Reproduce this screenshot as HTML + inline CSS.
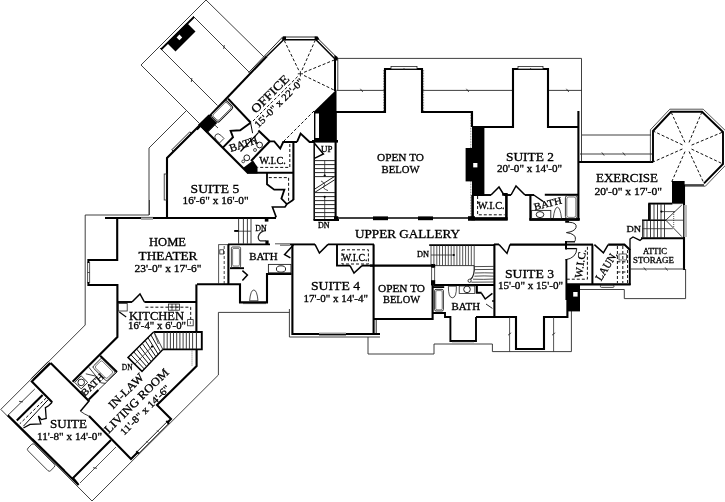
<!DOCTYPE html>
<html><head><meta charset="utf-8"><title>Floor plan</title>
<style>
html,body{margin:0;padding:0;background:#fff;}
svg{display:block;}
text{font-family:"Liberation Serif",serif;fill:#000;stroke:#000;stroke-width:0.3px;}
body{-webkit-font-smoothing:antialiased;}
#wrap{will-change:transform;transform:translateZ(0);}
</style></head><body><div id="wrap">
<svg width="725" height="502" viewBox="0 0 725 502">
<rect width="725" height="502" fill="#fff"/>
<polyline points="199.0,123.0 141.0,65.0 206.0,0.0" fill="none" stroke="#2a2a2a" stroke-width="0.9"/>
<polyline points="206.0,0.0 264.0,57.0" fill="none" stroke="#2a2a2a" stroke-width="0.9"/>
<polyline points="193.0,16.0 249.5,72.5" fill="none" stroke="#2a2a2a" stroke-width="0.9"/>
<path d="M222.8,45.4 L225.2,48.6" stroke="#222" stroke-width="0.8" transform="rotate(45 224.0 47.0)"/>
<polyline points="160.0,48.0 217.5,105.5" fill="none" stroke="#2a2a2a" stroke-width="0.9"/>
<path d="M190.4,78.4 L192.8,81.6" stroke="#222" stroke-width="0.8" transform="rotate(45 191.6 80.0)"/>
<polyline points="161.0,49.5 194.0,17.0" fill="none" stroke="#000" stroke-width="1.9" stroke-linejoin="miter"/>
<polygon points="167.0,43.0 187.0,23.0 195.5,31.5 175.5,51.5" fill="#000"/>
<polygon points="179.4,34.6 182.2,37.4 179.4,40.2 176.6,37.4" fill="#fff"/>
<polyline points="186.0,111.0 149.0,148.0 149.0,215.0 85.2,215.0 85.2,325.0 0.8,409.4 92.0,501.0 218.4,375.0 218.4,312.4 289.4,312.4" fill="none" stroke="#2a2a2a" stroke-width="0.9"/>
<polyline points="289.4,309.0 289.4,337.0 380.0,337.0" fill="none" stroke="#2a2a2a" stroke-width="0.9"/>
<polyline points="368.0,337.0 368.0,354.0 434.0,354.0 434.0,344.0 492.4,344.0 492.4,351.6 571.4,351.6 571.4,311.0" fill="none" stroke="#2a2a2a" stroke-width="0.9"/>
<polyline points="580.0,289.5 624.3,289.5 624.3,298.6 685.6,298.6 685.6,269.0" fill="none" stroke="#2a2a2a" stroke-width="0.9"/>
<polyline points="337.0,58.4 581.5,58.4 581.5,162.0" fill="none" stroke="#2a2a2a" stroke-width="0.9"/>
<polyline points="337.8,58.4 337.8,90.4" fill="none" stroke="#2a2a2a" stroke-width="0.9"/>
<polyline points="337.0,90.4 384.0,90.4" fill="none" stroke="#2a2a2a" stroke-width="0.9"/>
<path d="M360.4,88.8 L362.8,92.0" stroke="#222" stroke-width="0.8" transform="rotate(0 361.6 90.4)"/>
<polyline points="423.0,90.4 513.0,90.4" fill="none" stroke="#2a2a2a" stroke-width="0.9"/>
<path d="M466.4,88.8 L468.8,92.0" stroke="#222" stroke-width="0.8" transform="rotate(0 467.6 90.4)"/>
<polyline points="548.0,90.4 582.0,90.4" fill="none" stroke="#2a2a2a" stroke-width="0.9"/>
<path d="M566.4,88.8 L568.8,92.0" stroke="#222" stroke-width="0.8" transform="rotate(0 567.6 90.4)"/>
<polyline points="582.0,135.0 651.0,135.0" fill="none" stroke="#2a2a2a" stroke-width="0.9"/>
<polyline points="580.0,154.0 652.0,154.0" fill="none" stroke="#2a2a2a" stroke-width="0.9"/>
<path d="M601.8,152.4 L604.2,155.6" stroke="#222" stroke-width="0.8" transform="rotate(0 603.0 154.0)"/>
<path d="M622.8,152.4 L625.2,155.6" stroke="#222" stroke-width="0.8" transform="rotate(0 624.0 154.0)"/>
<polyline points="266.8,56.2 196.8,129.6" fill="none" stroke="#000" stroke-width="2.2" stroke-linejoin="miter"/>
<polyline points="248.6,72.6 282.6,37.0 316.4,37.0 337.8,58.4" fill="none" stroke="#111" stroke-width="0.9"/>
<polyline points="266.8,56.2 283.6,39.8 316.0,39.8 334.8,58.8" fill="none" stroke="#000" stroke-width="1.5"/>
<polygon points="281.6,39.6 283.2,36.6 286.0,36.6 286.0,40.4" fill="#000"/>
<polygon points="314.6,36.6 317.8,36.6 319.4,39.6 314.6,40.4" fill="#000"/>
<polygon points="334.4,55.0 337.6,57.0 337.6,60.4 334.4,60.4" fill="#000"/>
<polyline points="335.0,58.0 335.0,91.0" fill="none" stroke="#000" stroke-width="2.0" stroke-linejoin="miter"/>
<polyline points="298.7,70.2 284.4,40.8" fill="none" stroke="#111" stroke-width="1.0" stroke-dasharray="3 2"/>
<polyline points="302.0,70.1 315.0,40.8" fill="none" stroke="#111" stroke-width="1.0" stroke-dasharray="3 2"/>
<polyline points="304.1,72.3 334.2,60.0" fill="none" stroke="#111" stroke-width="1.0" stroke-dasharray="3 2"/>
<polyline points="304.0,75.5 334.0,90.0" fill="none" stroke="#111" stroke-width="1.0" stroke-dasharray="3 2"/>
<polyline points="297.6,76.6 253.0,121.0" fill="none" stroke="#111" stroke-width="1.0" stroke-dasharray="3 2"/>
<polyline points="314.0,111.0 283.0,142.0" fill="none" stroke="#111" stroke-width="1.0" stroke-dasharray="3 2"/>
<path d="M297.8,73.8 h5.2 M300.4,71.2 v5.2" stroke="#111" stroke-width="0.9"/>
<polygon points="336.5,89.5 314.0,111.6 314.0,141.5 336.5,141.5" fill="#000"/>
<rect x="315.4" y="113.5" width="3.6" height="24.5" fill="#fff"/>
<polyline points="228.0,98.6 250.8,122.8" fill="none" stroke="#000" stroke-width="2.1" stroke-linejoin="miter"/>
<polyline points="258.4,130.4 269.6,141.2" fill="none" stroke="#000" stroke-width="2.1" stroke-linejoin="miter"/>
<polyline points="250.6,122.8 252.6,133.2" fill="none" stroke="#000" stroke-width="1.0"/>
<polyline points="199.0,124.0 248.0,173.0" fill="none" stroke="#000" stroke-width="2.1" stroke-linejoin="miter"/>
<polygon points="198.4,124.4 208.6,114.4 217.2,123.0 207.0,133.2" fill="#000"/>
<polygon points="243.0,168.0 253.0,160.5 257.5,167.0 257.5,173.5 248.0,173.5" fill="#000"/>
<rect x="-10.9" y="-5.3" width="21.8" height="10.6" rx="2" fill="#fff" stroke="#111" stroke-width="1.0" transform="translate(222,111.4) rotate(-45)"/>
<rect x="-9.6" y="-4" width="19.2" height="8" rx="1.6" fill="none" stroke="#333" stroke-width="0.7" transform="translate(222,111.4) rotate(-45)"/>
<polyline points="207.6,132.0 214.8,125.0 218.0,128.0" fill="none" stroke="#2a2a2a" stroke-width="0.9"/>
<path d="M-3.2,3 L-3.2,-1.5 Q-3.2,-5.5 0,-5.5 Q3.2,-5.5 3.2,-1.5 L3.2,3 Z" fill="none" stroke="#222" stroke-width="0.8" transform="translate(219.6,138.6) rotate(-45)"/>
<polyline points="250.6,122.8 240.2,130.2 230.6,130.8 233.0,137.2 222.6,147.8" fill="none" stroke="#000" stroke-width="1.9" stroke-linejoin="miter"/>
<polyline points="258.6,132.4 240.5,151.5" fill="none" stroke="#000" stroke-width="1.2"/>
<polyline points="252.0,139.0 256.5,143.5" fill="none" stroke="#2a2a2a" stroke-width="0.8"/>
<ellipse cx="259.6" cy="145.0" rx="2.9" ry="2.9" fill="#fff" stroke="#222" stroke-width="1.0" transform="rotate(0 259.6 145.0)"/>
<ellipse cx="255.0" cy="150.0" rx="1.5" ry="1.5" fill="#fff" stroke="#222" stroke-width="0.8" transform="rotate(0 255.0 150.0)"/>
<ellipse cx="246.8" cy="157.8" rx="2.9" ry="2.9" fill="#fff" stroke="#222" stroke-width="1.0" transform="rotate(0 246.8 157.8)"/>
<ellipse cx="243.2" cy="161.4" rx="1.4" ry="1.4" fill="#fff" stroke="#222" stroke-width="0.8" transform="rotate(0 243.2 161.4)"/>
<polyline points="270.0,141.0 251.0,161.0" fill="none" stroke="#000" stroke-width="2.1" stroke-linejoin="miter"/>
<polyline points="270.0,141.4 274.2,141.4 280.2,148.6 283.2,142.0 297.0,142.0" fill="none" stroke="#000" stroke-width="1.9" stroke-linejoin="miter"/>
<polyline points="297.0,142.0 300.6,133.6 309.6,142.0 314.4,142.0" fill="none" stroke="#000" stroke-width="1.9" stroke-linejoin="miter"/>
<polyline points="293.4,142.0 293.4,200.0" fill="none" stroke="#000" stroke-width="2.1" stroke-linejoin="miter"/>
<polyline points="247.0,172.8 293.4,172.8" fill="none" stroke="#000" stroke-width="2.1" stroke-linejoin="miter"/>
<polyline points="289.8,144.0 289.8,167.4 257.4,167.4" fill="none" stroke="#111" stroke-width="1.0" stroke-dasharray="3 2"/>
<polyline points="267.0,173.0 267.0,184.2 274.2,189.6 284.4,189.6 281.4,198.6 286.8,204.2 293.4,199.8" fill="none" stroke="#000" stroke-width="1.8" stroke-linejoin="miter"/>
<polyline points="268.8,177.6 288.6,177.6 288.6,201.0" fill="none" stroke="#111" stroke-width="1.0" stroke-dasharray="3 2"/>
<polyline points="286.8,204.2 285.0,207.0 272.4,207.0 276.0,216.6 274.8,217.8" fill="none" stroke="#000" stroke-width="1.6" stroke-linejoin="miter"/>
<polyline points="200.0,125.0 167.0,158.0 167.0,218.0" fill="none" stroke="#000" stroke-width="2.1" stroke-linejoin="miter"/>
<polyline points="173.4,151.4 171.8,149.8 189.8,131.8 191.4,133.4" fill="none" stroke="#111" stroke-width="0.9"/>
<rect x="164.2" y="174.0" width="2.8" height="26.0" rx="0" fill="none" stroke="#222" stroke-width="0.8"/>
<polyline points="105.0,218.0 141.0,218.0" fill="none" stroke="#000" stroke-width="2.1" stroke-linejoin="miter"/>
<polyline points="153.0,218.0 276.0,218.0" fill="none" stroke="#000" stroke-width="2.1" stroke-linejoin="miter"/>
<polyline points="141.0,217.4 153.0,217.4" fill="none" stroke="#2a2a2a" stroke-width="0.8"/>
<polyline points="141.0,219.0 153.0,219.0" fill="none" stroke="#2a2a2a" stroke-width="0.8"/>
<polyline points="149.4,200.0 149.4,215.0" fill="none" stroke="#2a2a2a" stroke-width="0.9"/>
<polyline points="335.6,112.0 335.6,220.5" fill="none" stroke="#000" stroke-width="2.1" stroke-linejoin="miter"/>
<polyline points="314.2,142.0 314.2,220.0" fill="none" stroke="#000" stroke-width="1.5" stroke-linejoin="miter"/>
<polyline points="313.5,220.0 339.0,220.0" fill="none" stroke="#000" stroke-width="2.0" stroke-linejoin="miter"/>
<rect x="312.0" y="140.0" width="26.0" height="2.6" fill="#000"/>
<polyline points="314.6,160.6 335.0,160.6" fill="none" stroke="#2a2a2a" stroke-width="1.0"/>
<polyline points="314.6,164.6 335.0,164.6" fill="none" stroke="#2a2a2a" stroke-width="1.0"/>
<polyline points="314.6,168.6 335.0,168.6" fill="none" stroke="#2a2a2a" stroke-width="1.0"/>
<polyline points="314.6,172.6 335.0,172.6" fill="none" stroke="#2a2a2a" stroke-width="1.0"/>
<polyline points="314.6,176.6 335.0,176.6" fill="none" stroke="#2a2a2a" stroke-width="1.0"/>
<polyline points="314.6,192.6 335.0,192.6" fill="none" stroke="#2a2a2a" stroke-width="1.0"/>
<polyline points="314.6,196.6 335.0,196.6" fill="none" stroke="#2a2a2a" stroke-width="1.0"/>
<polyline points="314.6,200.6 335.0,200.6" fill="none" stroke="#2a2a2a" stroke-width="1.0"/>
<polyline points="314.6,204.6 335.0,204.6" fill="none" stroke="#2a2a2a" stroke-width="1.0"/>
<polyline points="314.6,208.6 335.0,208.6" fill="none" stroke="#2a2a2a" stroke-width="1.0"/>
<polyline points="314.6,212.6 335.0,212.6" fill="none" stroke="#2a2a2a" stroke-width="1.0"/>
<polyline points="314.6,216.6 335.0,216.6" fill="none" stroke="#2a2a2a" stroke-width="1.0"/>
<polyline points="324.7,160.4 324.7,175.5" fill="none" stroke="#2a2a2a" stroke-width="0.8"/>
<circle cx="324.7" cy="175.5" r="1.1" fill="#000"/>
<polyline points="324.7,196.5 324.7,219.0" fill="none" stroke="#2a2a2a" stroke-width="0.8"/>
<circle cx="324.7" cy="196.8" r="1.1" fill="#000"/>
<path d="M314.8,189 L334.6,176.4 M314.8,192.4 L334.6,179.8" fill="none" stroke="#222" stroke-width="1.0"/>
<path d="M321,181 Q326,183.4 324,186 Q322,188.4 328,190.6" fill="none" stroke="#222" stroke-width="0.8"/>
<polyline points="314.4,143.2 323.4,154.0 314.4,158.4" fill="none" stroke="#000" stroke-width="1.5"/>
<polyline points="335.0,112.0 385.0,112.0 385.0,69.0 422.0,69.0 422.0,112.0 472.0,112.0 472.0,127.0" fill="none" stroke="#000" stroke-width="2.1" stroke-linejoin="miter"/>
<polyline points="484.0,127.0 513.0,127.0 513.0,69.0 548.0,69.0 548.0,127.0 578.4,127.0" fill="none" stroke="#000" stroke-width="2.1" stroke-linejoin="miter"/>
<polyline points="578.4,111.0 578.4,220.0" fill="none" stroke="#000" stroke-width="2.1" stroke-linejoin="miter"/>
<rect x="391.0" y="66.4" width="26.0" height="2.6" rx="0" fill="#fff" stroke="#222" stroke-width="0.8"/>
<rect x="518.0" y="66.4" width="25.0" height="2.6" rx="0" fill="#fff" stroke="#222" stroke-width="0.8"/>
<polyline points="404.0,68.0 404.0,69.6" fill="none" stroke="#2a2a2a" stroke-width="0.8"/>
<polyline points="530.6,68.0 530.6,69.6" fill="none" stroke="#2a2a2a" stroke-width="0.8"/>
<polyline points="383.6,70.0 383.6,112.0" fill="none" stroke="#111" stroke-width="0.6" stroke-dasharray="0.8 0.8"/>
<polyline points="423.6,70.0 423.6,112.0" fill="none" stroke="#111" stroke-width="0.6" stroke-dasharray="0.8 0.8"/>
<rect x="472.0" y="126.0" width="12.4" height="70.0" fill="#000"/>
<rect x="465.6" y="148.0" width="7.4" height="33.4" fill="#000"/>
<rect x="473.2" y="163.0" width="4.2" height="4.4" fill="#fff"/>
<polyline points="470.8,112.0 470.8,148.0" fill="none" stroke="#111" stroke-width="0.6" stroke-dasharray="0.8 0.8"/>
<polyline points="470.8,181.0 470.8,218.0" fill="none" stroke="#111" stroke-width="0.6" stroke-dasharray="0.8 0.8"/>
<polyline points="335.0,218.0 475.0,218.0" fill="none" stroke="#000" stroke-width="1.5" stroke-linejoin="miter"/>
<rect x="373.0" y="216.4" width="15.0" height="3.8" fill="#000"/>
<rect x="418.0" y="216.4" width="15.0" height="3.8" fill="#000"/>
<rect x="334.0" y="216.2" width="4.2" height="4.2" fill="#000"/>
<rect x="468.0" y="216.2" width="7.0" height="4.2" fill="#000"/>
<polyline points="484.0,195.0 491.0,195.0" fill="none" stroke="#000" stroke-width="1.9" stroke-linejoin="miter"/>
<polyline points="491.0,195.0 499.0,187.0 504.0,195.0" fill="none" stroke="#000" stroke-width="1.5"/>
<polyline points="504.0,195.0 511.0,195.0" fill="none" stroke="#000" stroke-width="1.9" stroke-linejoin="miter"/>
<polyline points="511.0,195.0 516.0,186.0 525.0,195.0" fill="none" stroke="#000" stroke-width="1.5"/>
<polyline points="525.0,195.0 534.0,195.0" fill="none" stroke="#000" stroke-width="1.9" stroke-linejoin="miter"/>
<polyline points="533.4,194.8 543.0,201.4" fill="none" stroke="#000" stroke-width="1.3"/>
<polyline points="472.6,195.0 472.6,219.0 506.4,219.0 506.4,194.4 502.2,194.4" fill="none" stroke="#000" stroke-width="2.6" stroke-linejoin="miter"/>
<rect x="468.0" y="217.2" width="39.6" height="3.4" fill="#000"/>
<polyline points="477.6,196.0 477.6,214.8 504.6,214.8" fill="none" stroke="#111" stroke-width="1.0" stroke-dasharray="3 2"/>
<polyline points="530.4,194.8 530.4,219.4 579.6,219.4" fill="none" stroke="#000" stroke-width="2.1" stroke-linejoin="miter"/>
<rect x="529.4" y="218.0" width="50.2" height="2.8" fill="#000"/>
<polyline points="544.8,194.8 579.0,194.8" fill="none" stroke="#000" stroke-width="1.9" stroke-linejoin="miter"/>
<rect x="565.4" y="195.6" width="11.8" height="23.0" rx="2.2" fill="none" stroke="#222" stroke-width="0.9"/>
<rect x="566.8" y="197.0" width="9.0" height="20.4" rx="2" fill="none" stroke="#222" stroke-width="0.6"/>
<rect x="531.6" y="210.4" width="19.2" height="8.4" rx="0" fill="none" stroke="#222" stroke-width="0.9"/>
<ellipse cx="540.0" cy="214.6" rx="3.8" ry="3.0" fill="#fff" stroke="#222" stroke-width="1.0" transform="rotate(0 540.0 214.6)"/>
<path d="M553.2,218.6 Q554.6,207.2 557.4,207.2 Q560.2,207.2 561.6,218.6 Z" fill="none" stroke="#222" stroke-width="0.8"/>
<polyline points="578.0,162.0 653.0,162.0" fill="none" stroke="#000" stroke-width="2.1" stroke-linejoin="miter"/>
<polyline points="653.0,162.0 653.0,131.0 671.0,111.8 702.0,111.8 723.0,132.0 723.0,164.0 704.0,183.4" fill="none" stroke="#000" stroke-width="1.9" stroke-linejoin="miter"/>
<polyline points="650.4,162.0 650.4,129.8 669.8,109.2 703.2,109.2 725.6,130.8 725.6,165.2 705.4,186.2 684.0,186.2" fill="none" stroke="#2a2a2a" stroke-width="0.8"/>
<polyline points="684.9,142.4 671.0,111.8" fill="none" stroke="#111" stroke-width="1.0" stroke-dasharray="3 2"/>
<polyline points="689.0,142.4 702.0,111.8" fill="none" stroke="#111" stroke-width="1.0" stroke-dasharray="3 2"/>
<polyline points="691.6,145.1 723.0,132.0" fill="none" stroke="#111" stroke-width="1.0" stroke-dasharray="3 2"/>
<polyline points="691.5,149.1 723.0,164.0" fill="none" stroke="#111" stroke-width="1.0" stroke-dasharray="3 2"/>
<polyline points="689.1,151.5 704.0,183.4" fill="none" stroke="#111" stroke-width="1.0" stroke-dasharray="3 2"/>
<polyline points="685.0,151.6 671.0,183.4" fill="none" stroke="#111" stroke-width="1.0" stroke-dasharray="3 2"/>
<polyline points="682.4,149.0 653.0,162.0" fill="none" stroke="#111" stroke-width="1.0" stroke-dasharray="3 2"/>
<polyline points="682.5,144.9 653.0,131.0" fill="none" stroke="#111" stroke-width="1.0" stroke-dasharray="3 2"/>
<rect x="672.0" y="181.0" width="12.6" height="22.4" fill="#000"/>
<polyline points="684.0,185.0 684.0,205.0" fill="none" stroke="#000" stroke-width="2.1" stroke-linejoin="miter"/>
<polyline points="684.0,237.0 684.0,270.0" fill="none" stroke="#000" stroke-width="2.1" stroke-linejoin="miter"/>
<polyline points="683.8,205.0 683.8,237.0" fill="none" stroke="#000" stroke-width="1.2"/>
<polyline points="686.0,205.0 686.0,237.0" fill="none" stroke="#555" stroke-width="0.8"/>
<polyline points="684.0,185.0 704.0,185.0" fill="none" stroke="#000" stroke-width="1.3" stroke-linejoin="miter"/>
<polyline points="648.3,203.6 672.4,203.6" fill="none" stroke="#000" stroke-width="1.9" stroke-linejoin="miter"/>
<polyline points="649.0,203.6 649.0,220.4" fill="none" stroke="#000" stroke-width="1.9" stroke-linejoin="miter"/>
<polyline points="642.0,220.2 666.0,220.2" fill="none" stroke="#000" stroke-width="1.5" stroke-linejoin="miter"/>
<polyline points="666.0,220.2 684.0,220.2" fill="none" stroke="#2a2a2a" stroke-width="0.8"/>
<polyline points="642.6,220.4 642.6,237.4" fill="none" stroke="#2a2a2a" stroke-width="1.0"/>
<polyline points="650.5,204.0 650.5,220.0" fill="none" stroke="#2a2a2a" stroke-width="0.9"/>
<polyline points="654.0,204.0 654.0,220.0" fill="none" stroke="#2a2a2a" stroke-width="0.9"/>
<polyline points="657.5,204.0 657.5,220.0" fill="none" stroke="#2a2a2a" stroke-width="0.9"/>
<polyline points="661.0,204.0 661.0,220.0" fill="none" stroke="#2a2a2a" stroke-width="0.9"/>
<polyline points="664.5,204.0 664.5,220.0" fill="none" stroke="#2a2a2a" stroke-width="0.9"/>
<polyline points="643.8,221.0 643.8,237.6" fill="none" stroke="#2a2a2a" stroke-width="0.9"/>
<polyline points="647.0,221.0 647.0,237.6" fill="none" stroke="#2a2a2a" stroke-width="0.9"/>
<polyline points="650.5,221.0 650.5,237.6" fill="none" stroke="#2a2a2a" stroke-width="0.9"/>
<polyline points="654.0,221.0 654.0,237.6" fill="none" stroke="#2a2a2a" stroke-width="0.9"/>
<polyline points="657.5,221.0 657.5,237.6" fill="none" stroke="#2a2a2a" stroke-width="0.9"/>
<polyline points="661.0,221.0 661.0,237.6" fill="none" stroke="#2a2a2a" stroke-width="0.9"/>
<polyline points="664.5,221.0 664.5,237.6" fill="none" stroke="#2a2a2a" stroke-width="0.9"/>
<polyline points="642.6,228.7 672.8,228.7" fill="none" stroke="#2a2a2a" stroke-width="0.8"/>
<polyline points="681.8,205.0 665.8,220.2 681.8,236.6" fill="none" stroke="#2a2a2a" stroke-width="0.9"/>
<polyline points="673.7,212.0 673.7,228.0" fill="none" stroke="#111" stroke-width="0.7" stroke-dasharray="1 1"/>
<polyline points="661.4,211.6 675.0,211.6" fill="none" stroke="#2a2a2a" stroke-width="0.8"/>
<circle cx="661.4" cy="211.6" r="1.1" fill="#000"/>
<polyline points="672.4,203.6 683.0,203.6" fill="none" stroke="#2a2a2a" stroke-width="0.8"/>
<polyline points="641.0,238.2 684.0,238.2" fill="none" stroke="#000" stroke-width="1.9" stroke-linejoin="miter"/>
<polyline points="630.0,250.0 630.0,239.0 633.0,237.0 640.0,240.4 642.4,238.2" fill="none" stroke="#000" stroke-width="1.3" stroke-linejoin="miter"/>
<polyline points="629.8,249.0 629.8,285.0" fill="none" stroke="#000" stroke-width="1.9" stroke-linejoin="miter"/>
<polyline points="630.0,269.0 684.0,269.0" fill="none" stroke="#2a2a2a" stroke-width="0.9"/>
<path d="M643.8,267.4 L646.2,270.6" stroke="#222" stroke-width="0.8" transform="rotate(0 645.0 269.0)"/>
<path d="M665.2,267.4 L667.6,270.6" stroke="#222" stroke-width="0.8" transform="rotate(0 666.4 269.0)"/>
<polyline points="565.2,221.8 569.0,221.8" fill="none" stroke="#000" stroke-width="1.9" stroke-linejoin="miter"/>
<path d="M568.8,222.2 Q577.4,222.6 576,227.6 Q574.6,231.6 566.4,232.6 Q576.4,234 575.4,239.4 Q575.2,241 574.6,241.6" fill="none" stroke="#222" stroke-width="1.0"/>
<polyline points="566.0,241.0 566.0,249.4" fill="none" stroke="#000" stroke-width="2.0" stroke-linejoin="miter"/>
<polyline points="566.0,241.8 575.0,241.8" fill="none" stroke="#000" stroke-width="1.3" stroke-linejoin="miter"/>
<polyline points="566.0,248.6 576.8,248.6" fill="none" stroke="#000" stroke-width="1.3" stroke-linejoin="miter"/>
<path d="M576.8,248.6 Q576.4,258 565.4,259.8" fill="none" stroke="#222" stroke-width="1.0"/>
<polyline points="566.0,244.6 593.0,244.6" fill="none" stroke="#000" stroke-width="2.1" stroke-linejoin="miter"/>
<polyline points="290.0,244.4 315.0,244.4" fill="none" stroke="#000" stroke-width="1.9" stroke-linejoin="miter"/>
<polyline points="315.0,244.4 319.4,253.0 328.0,244.4" fill="none" stroke="#000" stroke-width="1.5"/>
<polyline points="328.0,244.4 374.0,244.4" fill="none" stroke="#000" stroke-width="1.9" stroke-linejoin="miter"/>
<polyline points="494.0,244.4 499.0,244.4" fill="none" stroke="#000" stroke-width="1.9" stroke-linejoin="miter"/>
<polyline points="499.0,244.4 507.0,253.4 510.0,244.4" fill="none" stroke="#000" stroke-width="1.5"/>
<polyline points="510.0,244.6 567.0,244.6" fill="none" stroke="#000" stroke-width="2.1" stroke-linejoin="miter"/>
<polyline points="592.4,244.6 592.4,284.4" fill="none" stroke="#000" stroke-width="2.0" stroke-linejoin="miter"/>
<polyline points="594.4,244.6 603.4,252.8 608.2,244.6" fill="none" stroke="#000" stroke-width="1.5"/>
<polyline points="608.2,244.6 624.4,244.6 629.6,249.4" fill="none" stroke="#000" stroke-width="2.1" stroke-linejoin="miter"/>
<polyline points="566.0,284.4 630.6,284.4" fill="none" stroke="#000" stroke-width="2.1" stroke-linejoin="miter"/>
<polyline points="566.4,259.0 566.4,300.0" fill="none" stroke="#000" stroke-width="1.9" stroke-linejoin="miter"/>
<polyline points="587.4,246.8 587.4,279.2 567.0,279.2" fill="none" stroke="#111" stroke-width="1.0" stroke-dasharray="3 2"/>
<polyline points="617.4,246.0 617.4,283.0" fill="none" stroke="#111" stroke-width="1.0" stroke-dasharray="3 2"/>
<polyline points="622.8,246.0 622.8,283.0" fill="none" stroke="#111" stroke-width="1.0" stroke-dasharray="3 2"/>
<polyline points="627.6,250.0 627.6,283.0" fill="none" stroke="#111" stroke-width="1.0" stroke-dasharray="3 2"/>
<polyline points="617.4,261.8 628.0,261.8" fill="none" stroke="#111" stroke-width="1.0" stroke-dasharray="3 2"/>
<polyline points="617.4,272.0 628.0,272.0" fill="none" stroke="#111" stroke-width="1.0" stroke-dasharray="3 2"/>
<rect x="619.0" y="254.0" width="7.6" height="6.0" rx="0" fill="none" stroke="#222" stroke-width="0.7"/>
<rect x="600.4" y="285.0" width="13.6" height="2.4" rx="1" fill="none" stroke="#222" stroke-width="0.8"/>
<rect x="567.0" y="284.4" width="13.0" height="27.0" fill="#000"/>
<rect x="573.2" y="292.0" width="4.4" height="4.6" fill="#fff"/>
<polyline points="494.4,244.0 494.4,317.6" fill="none" stroke="#000" stroke-width="2.1" stroke-linejoin="miter"/>
<polyline points="476.0,317.0 516.0,317.0 516.0,349.0 544.0,349.0 544.0,317.0 567.4,317.0 567.4,300.0" fill="none" stroke="#000" stroke-width="2.1" stroke-linejoin="miter"/>
<polyline points="509.6,317.0 509.6,351.6" fill="none" stroke="#2a2a2a" stroke-width="0.8"/>
<path d="M508.4,332.4 L510.8,335.6" stroke="#222" stroke-width="0.8" transform="rotate(-90 509.6 334.0)"/>
<polyline points="553.6,317.0 553.6,351.6" fill="none" stroke="#2a2a2a" stroke-width="0.8"/>
<path d="M552.4,332.4 L554.8,335.6" stroke="#222" stroke-width="0.8" transform="rotate(-90 553.6 334.0)"/>
<polyline points="433.6,285.0 494.4,285.0" fill="none" stroke="#000" stroke-width="1.9" stroke-linejoin="miter"/>
<polyline points="432.0,313.0 445.0,313.0 445.0,317.0 450.4,317.0 450.4,341.0 476.0,341.0 476.0,317.0" fill="none" stroke="#000" stroke-width="1.9" stroke-linejoin="miter"/>
<polyline points="452.0,341.8 474.0,341.8" fill="none" stroke="#2a2a2a" stroke-width="0.7"/>
<rect x="433.0" y="286.2" width="11.2" height="1.8" fill="#000"/>
<rect x="434.6" y="289.4" width="8.8" height="21.6" rx="1.4" fill="none" stroke="#222" stroke-width="0.9"/>
<rect x="435.8" y="290.6" width="6.4" height="19.2" rx="1.2" fill="none" stroke="#222" stroke-width="0.6"/>
<path d="M448.4,286.2 L456.4,286.2 Q456.6,297.8 452.4,297.8 Q448.2,297.8 448.4,286.2 Z" fill="none" stroke="#222" stroke-width="0.8"/>
<rect x="459.2" y="286.0" width="15.6" height="7.4" rx="0" fill="none" stroke="#222" stroke-width="0.8"/>
<ellipse cx="467.0" cy="289.4" rx="3.3" ry="3.3" fill="#fff" stroke="#222" stroke-width="1.0" transform="rotate(0 467.0 289.4)"/>
<polyline points="476.8,285.0 476.8,292.8 481.6,292.8" fill="none" stroke="#000" stroke-width="2.1" stroke-linejoin="miter"/>
<polyline points="481.4,293.2 485.2,299.0 492.4,293.4" fill="none" stroke="#000" stroke-width="1.5"/>
<polyline points="486.0,304.0 492.4,308.4" fill="none" stroke="#2a2a2a" stroke-width="1.0"/>
<polyline points="492.0,301.0 494.4,301.0" fill="none" stroke="#000" stroke-width="1.4" stroke-linejoin="miter"/>
<polyline points="370.0,265.6 432.4,265.6" fill="none" stroke="#000" stroke-width="2.1" stroke-linejoin="miter"/>
<polyline points="432.0,265.6 474.0,265.6" fill="none" stroke="#2a2a2a" stroke-width="0.9"/>
<polyline points="373.6,244.4 373.6,334.6" fill="none" stroke="#000" stroke-width="2.1" stroke-linejoin="miter"/>
<polyline points="373.6,319.0 432.6,319.0 432.6,285.0" fill="none" stroke="#000" stroke-width="2.1" stroke-linejoin="miter"/>
<polyline points="431.6,268.0 431.6,281.0" fill="none" stroke="#2a2a2a" stroke-width="0.8"/>
<polyline points="434.6,268.0 434.6,281.0" fill="none" stroke="#2a2a2a" stroke-width="0.8"/>
<rect x="431.0" y="264.0" width="4.2" height="3.8" fill="#000"/>
<rect x="431.0" y="280.2" width="4.2" height="5.2" fill="#000"/>
<polyline points="376.2,320.0 376.2,334.0" fill="none" stroke="#2a2a2a" stroke-width="1.0"/>
<polyline points="429.2,245.2 494.0,245.2" fill="none" stroke="#000" stroke-width="1.7"/>
<polyline points="431.0,245.4 431.0,265.4" fill="none" stroke="#2a2a2a" stroke-width="0.8"/>
<polyline points="433.9,245.4 433.9,265.4" fill="none" stroke="#2a2a2a" stroke-width="0.8"/>
<polyline points="436.8,245.4 436.8,265.4" fill="none" stroke="#2a2a2a" stroke-width="0.8"/>
<polyline points="439.6,245.4 439.6,265.4" fill="none" stroke="#2a2a2a" stroke-width="0.8"/>
<polyline points="442.5,245.4 442.5,265.4" fill="none" stroke="#2a2a2a" stroke-width="0.8"/>
<polyline points="445.4,245.4 445.4,265.4" fill="none" stroke="#2a2a2a" stroke-width="0.8"/>
<polyline points="448.3,245.4 448.3,265.4" fill="none" stroke="#2a2a2a" stroke-width="0.8"/>
<polyline points="451.2,245.4 451.2,265.4" fill="none" stroke="#2a2a2a" stroke-width="0.8"/>
<polyline points="454.0,245.4 454.0,265.4" fill="none" stroke="#2a2a2a" stroke-width="0.8"/>
<polyline points="456.9,245.4 456.9,265.4" fill="none" stroke="#2a2a2a" stroke-width="0.8"/>
<polyline points="459.8,245.4 459.8,265.4" fill="none" stroke="#2a2a2a" stroke-width="0.8"/>
<polyline points="462.7,245.4 462.7,265.4" fill="none" stroke="#2a2a2a" stroke-width="0.8"/>
<polyline points="465.6,245.4 465.6,265.4" fill="none" stroke="#2a2a2a" stroke-width="0.8"/>
<polyline points="468.4,245.4 468.4,265.4" fill="none" stroke="#2a2a2a" stroke-width="0.8"/>
<polyline points="471.3,245.4 471.3,265.4" fill="none" stroke="#2a2a2a" stroke-width="0.8"/>
<polyline points="474.2,245.4 474.2,265.4" fill="none" stroke="#2a2a2a" stroke-width="0.8"/>
<polyline points="431.0,255.0 453.8,255.0" fill="none" stroke="#2a2a2a" stroke-width="0.8"/>
<circle cx="453.8" cy="255.0" r="1.1" fill="#000"/>
<path d="M474.2,265.4 Q475,276 470.4,279.6" fill="none" stroke="#222" stroke-width="1.3"/>
<ellipse cx="469.6" cy="280.8" rx="1.6" ry="1.6" fill="#fff" stroke="#222" stroke-width="0.9" transform="rotate(0 469.6 280.8)"/>
<path d="M474.6,266.6 L494,266.4 M474.8,269.6 L494,269.4 M475,273 Q484,272.6 494,273 M474.4,276.2 Q484,275.6 494,276.2 M473,279.2 Q484,279.6 494,279 M471.4,282.2 L494,282" fill="none" stroke="#222" stroke-width="0.8"/>
<polyline points="292.4,244.4 292.4,334.0 380.0,334.0" fill="none" stroke="#000" stroke-width="2.1" stroke-linejoin="miter"/>
<polyline points="319.0,335.2 346.0,335.2" fill="none" stroke="#2a2a2a" stroke-width="0.7"/>
<rect x="319.0" y="333.0" width="27.0" height="1.0" fill="#fff"/>
<polyline points="319.0,333.2 346.0,333.2" fill="none" stroke="#2a2a2a" stroke-width="0.7"/>
<polyline points="337.0,244.4 337.0,265.6 350.0,265.6" fill="none" stroke="#000" stroke-width="1.9" stroke-linejoin="miter"/>
<polyline points="350.0,265.6 354.0,273.0 362.0,265.6" fill="none" stroke="#000" stroke-width="1.5"/>
<polyline points="362.0,265.6 374.0,265.6" fill="none" stroke="#000" stroke-width="1.9" stroke-linejoin="miter"/>
<polyline points="342.0,249.8 368.4,249.8 368.4,264.0 342.0,264.0 342.0,249.8" fill="none" stroke="#111" stroke-width="1.0" stroke-dasharray="3 2"/>
<polyline points="228.0,244.4 270.0,244.4" fill="none" stroke="#000" stroke-width="1.9" stroke-linejoin="miter"/>
<polyline points="275.0,243.8 290.0,243.8" fill="none" stroke="#2a2a2a" stroke-width="0.8"/>
<polyline points="280.0,245.2 290.0,245.2" fill="none" stroke="#2a2a2a" stroke-width="0.8"/>
<polyline points="228.4,244.4 228.4,284.0" fill="none" stroke="#000" stroke-width="2.1" stroke-linejoin="miter"/>
<polyline points="197.0,284.2 240.0,284.2 240.0,302.4 267.0,302.4 267.0,274.0 291.6,274.0" fill="none" stroke="#000" stroke-width="2.1" stroke-linejoin="miter"/>
<polyline points="243.0,303.6 266.0,303.6" fill="none" stroke="#2a2a2a" stroke-width="0.7"/>
<rect x="231.4" y="247.0" width="9.2" height="20.4" rx="1.2" fill="none" stroke="#222" stroke-width="0.8"/>
<rect x="232.6" y="248.4" width="6.8" height="17.6" rx="1.2" fill="none" stroke="#222" stroke-width="0.6"/>
<polyline points="230.0,268.2 244.0,268.2" fill="none" stroke="#000" stroke-width="1.9" stroke-linejoin="miter"/>
<polyline points="242.4,270.6 247.4,275.0 242.4,280.4" fill="none" stroke="#000" stroke-width="1.5"/>
<rect x="268.4" y="264.4" width="22.6" height="8.4" rx="0" fill="none" stroke="#222" stroke-width="0.9"/>
<ellipse cx="281.0" cy="269.0" rx="4.6" ry="3.2" fill="#fff" stroke="#222" stroke-width="1.0" transform="rotate(0 281.0 269.0)"/>
<path d="M249.6,300.8 Q250.6,290 253.8,290 Q257,290 258,300.8 Z" fill="none" stroke="#222" stroke-width="0.8"/>
<polyline points="293.4,245.0 284.6,254.6 290.4,257.8" fill="none" stroke="#000" stroke-width="1.5"/>
<polyline points="218.6,244.4 218.6,284.0" fill="none" stroke="#2a2a2a" stroke-width="0.8"/>
<polyline points="218.6,244.6 228.0,244.6" fill="none" stroke="#2a2a2a" stroke-width="0.8"/>
<polyline points="224.2,246.0 224.2,284.0" fill="none" stroke="#111" stroke-width="0.8" stroke-dasharray="3 2"/>
<rect x="219.8" y="249.8" width="3.8" height="4.2" rx="0" fill="none" stroke="#222" stroke-width="0.8"/>
<polyline points="238.6,218.6 238.6,243.8" fill="none" stroke="#2a2a2a" stroke-width="0.9"/>
<polyline points="243.4,218.6 243.4,243.8" fill="none" stroke="#2a2a2a" stroke-width="0.9"/>
<polyline points="247.4,218.6 247.4,243.8" fill="none" stroke="#2a2a2a" stroke-width="0.9"/>
<polyline points="251.0,218.6 251.0,243.8" fill="none" stroke="#2a2a2a" stroke-width="0.9"/>
<polyline points="238.6,231.2 251.0,231.2" fill="none" stroke="#2a2a2a" stroke-width="0.8"/>
<rect x="234.2" y="230.0" width="4.4" height="1.9" fill="#000"/>
<rect x="264.8" y="218.0" width="3.6" height="3.6" fill="#000"/>
<rect x="265.4" y="240.4" width="3.2" height="4.2" fill="#000"/>
<path d="M266,230.4 Q259.4,231.6 258.2,236.8 Q258.4,240.6 260.4,240.8 L266,240.8" fill="none" stroke="#222" stroke-width="1.2"/>
<polyline points="117.2,218.0 117.2,260.0 88.4,260.0 88.4,263.0" fill="none" stroke="#000" stroke-width="2.1" stroke-linejoin="miter"/>
<polyline points="88.4,282.0 88.4,285.0 117.4,285.0 117.4,337.0 72.6,381.8" fill="none" stroke="#000" stroke-width="2.1" stroke-linejoin="miter"/>
<polyline points="87.6,262.0 87.6,283.0" fill="none" stroke="#2a2a2a" stroke-width="0.8"/>
<polyline points="89.6,262.0 89.6,283.0" fill="none" stroke="#2a2a2a" stroke-width="0.8"/>
<polyline points="87.6,272.5 89.6,272.5" fill="none" stroke="#2a2a2a" stroke-width="0.8"/>
<polyline points="196.4,332.0 196.4,284.4" fill="none" stroke="#000" stroke-width="2.1" stroke-linejoin="miter"/>
<polyline points="117.4,302.0 132.0,302.0" fill="none" stroke="#000" stroke-width="1.9" stroke-linejoin="miter"/>
<polyline points="132.0,302.0 140.0,294.0 144.4,302.0" fill="none" stroke="#000" stroke-width="1.5"/>
<polyline points="144.4,302.0 196.4,302.0" fill="none" stroke="#000" stroke-width="1.9" stroke-linejoin="miter"/>
<polyline points="145.4,307.2 190.7,307.2 190.7,327.0" fill="none" stroke="#111" stroke-width="1.0" stroke-dasharray="3 2"/>
<rect x="118.2" y="303.4" width="9.0" height="7.6" rx="0" fill="none" stroke="#222" stroke-width="0.8"/>
<polyline points="119.3,312.0 126.2,317.0" fill="none" stroke="#000" stroke-width="1.1"/>
<rect x="187.6" y="319.6" width="5.6" height="6.2" rx="0" fill="#fff" stroke="#222" stroke-width="0.8"/>
<polyline points="190.4,321.4 190.4,324.0" fill="none" stroke="#2a2a2a" stroke-width="0.7"/>
<rect x="168.4" y="304.0" width="11.0" height="6.2" rx="0" fill="none" stroke="#222" stroke-width="0.8"/>
<polyline points="172.0,304.0 172.0,310.2" fill="none" stroke="#2a2a2a" stroke-width="0.8"/>
<polyline points="175.8,304.0 175.8,310.2" fill="none" stroke="#2a2a2a" stroke-width="0.8"/>
<polyline points="168.4,307.0 179.4,307.0" fill="none" stroke="#2a2a2a" stroke-width="0.7"/>
<polyline points="153.6,332.0 201.8,332.0 201.8,349.4 162.8,349.4" fill="none" stroke="#000" stroke-width="1.9" stroke-linejoin="miter"/>
<polyline points="164.0,332.0 164.0,349.0" fill="none" stroke="#2a2a2a" stroke-width="0.9"/>
<polyline points="167.2,332.0 167.2,349.0" fill="none" stroke="#2a2a2a" stroke-width="0.9"/>
<polyline points="170.4,332.0 170.4,349.0" fill="none" stroke="#2a2a2a" stroke-width="0.9"/>
<polyline points="173.5,332.0 173.5,349.0" fill="none" stroke="#2a2a2a" stroke-width="0.9"/>
<polyline points="176.7,332.0 176.7,349.0" fill="none" stroke="#2a2a2a" stroke-width="0.9"/>
<polyline points="179.9,332.0 179.9,349.0" fill="none" stroke="#2a2a2a" stroke-width="0.9"/>
<polyline points="183.1,332.0 183.1,349.0" fill="none" stroke="#2a2a2a" stroke-width="0.9"/>
<polyline points="186.3,332.0 186.3,349.0" fill="none" stroke="#2a2a2a" stroke-width="0.9"/>
<polyline points="189.4,332.0 189.4,349.0" fill="none" stroke="#2a2a2a" stroke-width="0.9"/>
<polyline points="192.6,332.0 192.6,349.0" fill="none" stroke="#2a2a2a" stroke-width="0.9"/>
<polyline points="196.4,332.0 196.4,349.0" fill="none" stroke="#2a2a2a" stroke-width="1.0"/>
<polyline points="153.6,332.0 128.0,357.4 142.0,371.4 162.8,349.4" fill="none" stroke="#000" stroke-width="1.5" stroke-linejoin="miter"/>
<polyline points="150.8,334.8 160.5,351.8" fill="none" stroke="#111" stroke-width="1.0"/>
<polyline points="147.9,337.6 158.2,354.3" fill="none" stroke="#111" stroke-width="1.0"/>
<polyline points="145.1,340.5 155.9,356.7" fill="none" stroke="#111" stroke-width="1.0"/>
<polyline points="142.2,343.3 153.6,359.2" fill="none" stroke="#111" stroke-width="1.0"/>
<polyline points="139.4,346.1 151.2,361.6" fill="none" stroke="#111" stroke-width="1.0"/>
<polyline points="136.5,348.9 148.9,364.1" fill="none" stroke="#111" stroke-width="1.0"/>
<polyline points="133.7,351.8 146.6,366.5" fill="none" stroke="#111" stroke-width="1.0"/>
<polyline points="130.8,354.6 144.3,369.0" fill="none" stroke="#111" stroke-width="1.0"/>
<polyline points="154.0,332.0 162.8,349.4" fill="none" stroke="#2a2a2a" stroke-width="0.9"/>
<polyline points="154.0,332.0 158.4,344.0" fill="none" stroke="#2a2a2a" stroke-width="0.8"/>
<polyline points="135.0,364.0 152.0,346.6" fill="none" stroke="#2a2a2a" stroke-width="0.7"/>
<circle cx="152.0" cy="346.6" r="1.1" fill="#000"/>
<polyline points="196.6,349.0 196.6,366.0 157.0,405.0 171.0,419.0 167.0,423.0" fill="none" stroke="#000" stroke-width="2.1" stroke-linejoin="miter"/>
<polyline points="138.0,452.0 131.0,459.0 89.0,416.0" fill="none" stroke="#000" stroke-width="2.1" stroke-linejoin="miter"/>
<polyline points="137.4,451.4 166.4,422.4" fill="none" stroke="#000" stroke-width="0.9"/>
<polyline points="139.0,453.0 168.0,424.0" fill="none" stroke="#2a2a2a" stroke-width="0.8"/>
<polygon points="137.0,450.4 139.6,453.0 138.0,454.4 135.6,452.0" fill="#000"/>
<polygon points="165.6,421.6 168.4,424.4 169.8,423.0 167.0,420.2" fill="#000"/>
<polyline points="146.4,441.0 148.2,442.8" fill="none" stroke="#2a2a2a" stroke-width="0.8"/>
<polyline points="157.0,430.4 158.8,432.2" fill="none" stroke="#2a2a2a" stroke-width="0.8"/>
<polyline points="192.0,349.4 192.0,366.0" fill="none" stroke="#111" stroke-width="0.6" stroke-dasharray="1 1"/>
<polyline points="50.6,363.0 89.4,401.4" fill="none" stroke="#000" stroke-width="2.1" stroke-linejoin="miter"/>
<polyline points="50.6,363.0 31.8,381.4 52.2,402.2" fill="none" stroke="#000" stroke-width="2.1" stroke-linejoin="miter"/>
<polyline points="31.4,378.4 48.4,361.4" fill="none" stroke="#111" stroke-width="0.9"/>
<polyline points="32.6,379.4 49.4,362.6" fill="none" stroke="#111" stroke-width="0.8"/>
<polyline points="52.2,402.2 48.6,405.8 45.4,407.6 46.2,418.4 41.4,419.6 38.4,416.0 40.8,423.8 30.0,424.4 23.4,428.0" fill="none" stroke="#000" stroke-width="1.3"/>
<polyline points="42.6,395.0 16.8,420.4" fill="none" stroke="#000" stroke-width="2.1" stroke-linejoin="miter"/>
<polyline points="46.2,398.0 19.8,423.8" fill="none" stroke="#111" stroke-width="1.0" stroke-dasharray="3 2"/>
<polyline points="48.0,399.8 23.4,426.2" fill="none" stroke="#000" stroke-width="1.0"/>
<polyline points="34.8,389.0 7.8,415.4" fill="none" stroke="#2a2a2a" stroke-width="0.9"/>
<path d="M19.8,400.0 L22.2,403.2" stroke="#222" stroke-width="0.8" transform="rotate(-45 21.0 401.6)"/>
<polyline points="7.8,415.2 78.6,485.0 73.0,478.0 111.0,440.0" fill="none" stroke="#000" stroke-width="2.1" stroke-linejoin="miter"/>
<polyline points="116.0,447.0 80.0,483.0" fill="none" stroke="#2a2a2a" stroke-width="0.8"/>
<path d="M93.8,466.4 L96.2,469.6" stroke="#222" stroke-width="0.8" transform="rotate(-45 95.0 468.0)"/>
<rect x="-3.5" y="0" width="32" height="9" rx="2" fill="#fff" stroke="#222" stroke-width="0.8" transform="translate(35.5,445.5) rotate(45)"/>
<polyline points="32.5,439.0 64.5,470.5" fill="none" stroke="#000" stroke-width="1.4" stroke-linejoin="miter"/>
<polyline points="100.2,355.8 117.0,372.0" fill="none" stroke="#000" stroke-width="2.1" stroke-linejoin="miter"/>
<polyline points="117.0,372.0 98.4,390.0" fill="none" stroke="#2a2a2a" stroke-width="1.0"/>
<polyline points="98.4,390.0 88.8,399.6" fill="none" stroke="#000" stroke-width="2.1" stroke-linejoin="miter"/>
<rect x="-10" y="-6.4" width="20" height="12.8" rx="1.5" fill="none" stroke="#222" stroke-width="0.9" transform="translate(104,369.6) rotate(45)"/>
<rect x="-8.4" y="-4.8" width="16.8" height="9.6" rx="1.8" fill="none" stroke="#222" stroke-width="0.6" transform="translate(104,369.6) rotate(45)"/>
<rect x="-4.6" y="-4.6" width="9.2" height="9.2" fill="none" stroke="#222" stroke-width="0.9" transform="translate(81.2,382.4) rotate(45)"/>
<ellipse cx="81.2" cy="382.4" rx="3.3" ry="3.3" fill="#fff" stroke="#222" stroke-width="1.0" transform="rotate(0 81.2 382.4)"/>
<polyline points="88.8,367.2 96.0,376.2 85.8,373.8" fill="none" stroke="#2a2a2a" stroke-width="0.9"/>
<polyline points="96.0,376.2 100.8,382.8 105.6,383.4" fill="none" stroke="#2a2a2a" stroke-width="0.9"/>
<polyline points="89.0,401.0 80.4,411.2" fill="none" stroke="#000" stroke-width="1.5"/>
<path d="M80.4,411.2 Q85,414.6 88.8,416" fill="none" stroke="#222" stroke-width="0.9"/>
<text x="506.0" y="161.0" font-size="12.0" textLength="48.0" lengthAdjust="spacingAndGlyphs">SUITE 2</text>
<text x="497.0" y="172.4" font-size="9.9" stroke-width="0.16" textLength="65.0" lengthAdjust="spacingAndGlyphs">20'-0&quot; x 14'-0&quot;</text>
<text x="596.0" y="182.4" font-size="11.6" textLength="62.0" lengthAdjust="spacingAndGlyphs">EXERCISE</text>
<text x="594.4" y="194.8" font-size="9.9" stroke-width="0.16" textLength="67.6" lengthAdjust="spacingAndGlyphs">20'-0&quot; x 17'-0&quot;</text>
<text x="643.0" y="254.0" font-size="8.8" textLength="24.0" lengthAdjust="spacingAndGlyphs">ATTIC</text>
<text x="633.0" y="263.0" font-size="8.8" textLength="41.0" lengthAdjust="spacingAndGlyphs">STORAGE</text>
<text x="626.4" y="231.6" font-size="8.8" textLength="14.6" lengthAdjust="spacingAndGlyphs">DN</text>
<text x="505.0" y="278.0" font-size="12.0" textLength="49.0" lengthAdjust="spacingAndGlyphs">SUITE 3</text>
<text x="498.0" y="289.4" font-size="9.9" stroke-width="0.16" textLength="65.0" lengthAdjust="spacingAndGlyphs">15'-0&quot; x 15'-0&quot;</text>
<text x="355.0" y="237.6" font-size="11.6" textLength="105.0" lengthAdjust="spacingAndGlyphs">UPPER GALLERY</text>
<text x="417.0" y="257.0" font-size="7.4" textLength="12.0" lengthAdjust="spacingAndGlyphs">DN</text>
<text x="378.0" y="292.0" font-size="10.3" textLength="47.0" lengthAdjust="spacingAndGlyphs">OPEN TO</text>
<text x="383.0" y="303.4" font-size="10.3" textLength="37.0" lengthAdjust="spacingAndGlyphs">BELOW</text>
<text x="451.6" y="309.6" font-size="10.3" textLength="28.4" lengthAdjust="spacingAndGlyphs">BATH</text>
<text x="311.0" y="290.0" font-size="12.0" textLength="49.0" lengthAdjust="spacingAndGlyphs">SUITE 4</text>
<text x="303.6" y="301.6" font-size="9.9" stroke-width="0.16" textLength="64.4" lengthAdjust="spacingAndGlyphs">17'-0&quot; x 14'-4&quot;</text>
<text x="342.0" y="260.6" font-size="9.8" textLength="25.4" lengthAdjust="spacingAndGlyphs">W.I.C.</text>
<text x="318.0" y="228.0" font-size="7.4" textLength="11.6" lengthAdjust="spacingAndGlyphs">DN</text>
<text x="321.0" y="151.6" font-size="8.4" textLength="11.4" lengthAdjust="spacingAndGlyphs">UP</text>
<text x="259.2" y="164.2" font-size="10.2" textLength="26.6" lengthAdjust="spacingAndGlyphs">W.I.C.</text>
<text x="190.6" y="192.9" font-size="12.0" textLength="48.6" lengthAdjust="spacingAndGlyphs">SUITE 5</text>
<text x="182.5" y="203.5" font-size="9.9" stroke-width="0.16" textLength="66.0" lengthAdjust="spacingAndGlyphs">16'-6&quot; x 16'-0&quot;</text>
<text x="149.0" y="245.6" font-size="11.6" textLength="37.0" lengthAdjust="spacingAndGlyphs">HOME</text>
<text x="138.6" y="259.8" font-size="11.6" textLength="58.8" lengthAdjust="spacingAndGlyphs">THEATER</text>
<text x="134.6" y="271.6" font-size="9.9" stroke-width="0.16" textLength="66.8" lengthAdjust="spacingAndGlyphs">23'-0&quot; x 17'-6&quot;</text>
<text x="249.2" y="259.8" font-size="10.3" textLength="28.4" lengthAdjust="spacingAndGlyphs">BATH</text>
<text x="255.2" y="230.6" font-size="8.2" textLength="11.4" lengthAdjust="spacingAndGlyphs">DN</text>
<text x="129.0" y="320.0" font-size="11.6" textLength="55.0" lengthAdjust="spacingAndGlyphs">KITCHEN</text>
<text x="128.0" y="329.4" font-size="9.9" stroke-width="0.16" textLength="58.0" lengthAdjust="spacingAndGlyphs">16'-4&quot; x 6'-0&quot;</text>
<text x="121.8" y="369.6" font-size="8.2" textLength="10.8" lengthAdjust="spacingAndGlyphs">DN</text>
<text x="50.0" y="428.4" font-size="12.0" textLength="37.0" lengthAdjust="spacingAndGlyphs">SUITE</text>
<text x="37.0" y="440.4" font-size="9.9" stroke-width="0.16" textLength="65.0" lengthAdjust="spacingAndGlyphs">11'-8&quot; x 14'-0&quot;</text>
<text x="377.0" y="161.0" font-size="10.700000000000001" textLength="47.0" lengthAdjust="spacingAndGlyphs">OPEN TO</text>
<text x="381.6" y="172.6" font-size="10.700000000000001" textLength="38.0" lengthAdjust="spacingAndGlyphs">BELOW</text>
<text x="477.8" y="209.4" font-size="10.2" textLength="26.8" lengthAdjust="spacingAndGlyphs">W.I.C.</text>
<text x="533.5" y="206.9" font-size="9.9" textLength="28.5" lengthAdjust="spacingAndGlyphs" transform="rotate(-14 547.8 203.6)">BATH</text>
<text x="565.9" y="267.2" font-size="10.8" textLength="29.0" lengthAdjust="spacingAndGlyphs" transform="rotate(-81 580.4 263.6)">W.I.C.</text>
<text x="590.5" y="269.6" font-size="11.0" textLength="31.8" lengthAdjust="spacingAndGlyphs" transform="rotate(-58 606.4 266.0)">LAUN.</text>
<text x="245.8" y="98.0" font-size="12.2" textLength="48.5" lengthAdjust="spacingAndGlyphs" transform="rotate(-45 270.0 94.0)">OFFICE</text>
<text x="246.5" y="106.3" font-size="9.9" stroke-width="0.16" textLength="65.0" lengthAdjust="spacingAndGlyphs" transform="rotate(-45 279.0 103.0)">15'-0&quot; x 22'-0&quot;</text>
<text x="229.0" y="147.8" font-size="10.9" textLength="29.0" lengthAdjust="spacingAndGlyphs" transform="rotate(-18 243.5 144.2)">BATH</text>
<text x="103.7" y="394.8" font-size="11.6" textLength="44.6" lengthAdjust="spacingAndGlyphs" transform="rotate(-45 126.0 391.0)">IN-LAW</text>
<text x="93.4" y="404.6" font-size="11.6" textLength="86.0" lengthAdjust="spacingAndGlyphs" transform="rotate(-45 136.4 400.8)">LIVING ROOM</text>
<text x="112.0" y="413.3" font-size="9.9" stroke-width="0.16" textLength="66.0" lengthAdjust="spacingAndGlyphs" transform="rotate(-45 145.0 410.0)">11'-8&quot; x 14'-6&quot;</text>
<text x="78.6" y="388.0" font-size="9.8" textLength="28.0" lengthAdjust="spacingAndGlyphs" transform="rotate(-44 92.6 384.8)">BATH</text>
</svg>
</div></body></html>
